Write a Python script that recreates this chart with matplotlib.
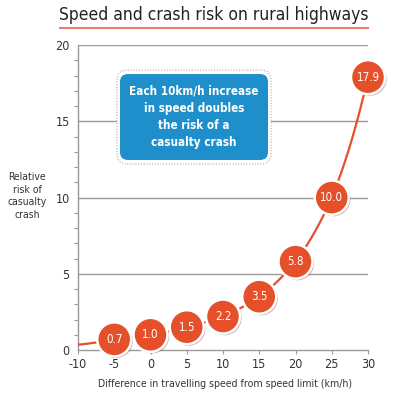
import numpy as np
import matplotlib
matplotlib.use('Agg')
import matplotlib.pyplot as plt
import matplotlib.patheffects as pe
from matplotlib.patches import FancyBboxPatch
from matplotlib.lines import Line2D

# --- data ---
speed_diff = [-5, 0, 5, 10, 15, 20, 25, 30]
relative_risk = [0.7, 1.0, 1.5, 2.2, 3.5, 5.8, 10.0, 17.9]
risk_labels = ['0.7', '1.0', '1.5', '2.2', '3.5', '5.8', '10.0', '17.9']
# curve starts at the left edge of the axis
curve_start_x = -10
curve_start_y = 0.35

x_ticks = [-10, -5, 0, 5, 10, 15, 20, 25, 30]
y_ticks = [0, 5, 10, 15, 20]

plt.rcParams['font.family'] = ['DejaVu Sans']
plt.rcParams['font.stretch'] = 'condensed'
ORANGE = '#E5502A'
BLUE = '#1F8FCB'
TXT = '#333333'
GREY = '#9a9a9a'

fig = plt.figure(figsize=(4.0, 3.96), dpi=100)
ax = fig.add_axes([0.195, 0.116, 0.725, 0.770])

# smooth curve: interpolate between the read points in log space
cx = np.array([curve_start_x] + speed_diff, dtype=float)
cy = np.log(np.array([curve_start_y] + relative_risk))
xs = np.linspace(cx[0], cx[-1], 300)
ax.plot(xs, np.exp(np.interp(xs, cx, cy)), color=ORANGE, lw=1.6, zorder=3,
        solid_capstyle='butt')

ax.scatter(speed_diff, relative_risk, s=600, color=ORANGE, edgecolor='white',
           linewidth=1.8, zorder=4, clip_on=False,
           path_effects=[pe.SimplePatchShadow(offset=(1.2, -1.2), alpha=0.3),
                         pe.Normal()])
for xv, yv, lab in zip(speed_diff, relative_risk, risk_labels):
    ax.text(xv, yv, lab, color='white', fontsize=8.3, ha='center',
            va='center', zorder=5)

ax.set_xlim(-10, 30)
ax.set_ylim(0, 20)
ax.set_xticks(x_ticks)
ax.set_xticklabels([str(t) for t in x_ticks])
ax.set_yticks(y_ticks)
ax.set_yticks(np.arange(0, 21, 1), minor=True)
for s in ['top', 'right']:
    ax.spines[s].set_visible(False)
for s in ['left', 'bottom']:
    ax.spines[s].set_color(GREY)
    ax.spines[s].set_linewidth(1)
ax.tick_params(axis='y', which='major', length=0, pad=6, labelsize=9,
               labelcolor=TXT)
ax.tick_params(axis='y', which='minor', length=3, color=GREY, width=0.8)
ax.tick_params(axis='x', length=3, color=GREY, width=0.8, labelsize=9,
               labelcolor=TXT, pad=3)
for yv in y_ticks[1:]:
    ax.axhline(yv, color=GREY, lw=1, zorder=1)

# title with red underline
fig.text(0.534, 0.963, 'Speed and crash risk on rural highways', ha='center',
         va='center', fontsize=12.5, color='#222222')
fig.add_artist(Line2D([0.15, 0.92], [0.929, 0.929], color='#F07A70', lw=1.5,
                      transform=fig.transFigure))

fig.text(0.068, 0.505, 'Relative\nrisk of\ncasualty\ncrash', ha='center',
         va='center', fontsize=7.5, color=TXT, linespacing=1.3)
fig.text(0.5625, 0.03, 'Difference in travelling speed from speed limit (km/h)',
         ha='center', va='center', fontsize=7.6, color=TXT)

# annotation box
outer = FancyBboxPatch((0.2925, 0.586), 0.385, 0.237,
                       boxstyle='round,pad=0,rounding_size=0.025',
                       transform=fig.transFigure, facecolor='white',
                       edgecolor='#aaaaaa', lw=0.8, linestyle=(0, (1, 1.5)),
                       zorder=5)
inner = FancyBboxPatch((0.30, 0.596), 0.37, 0.217,
                       boxstyle='round,pad=0,rounding_size=0.02',
                       transform=fig.transFigure, facecolor=BLUE,
                       edgecolor='none', zorder=6)
fig.add_artist(outer)
fig.add_artist(inner)
fig.text(0.485, 0.705,
         'Each 10km/h increase\nin speed doubles\nthe risk of a\ncasualty crash',
         ha='center', va='center', color='white', fontsize=8.4,
         fontweight='bold', linespacing=1.42, zorder=7)

fig.savefig('out.png', dpi=100)
